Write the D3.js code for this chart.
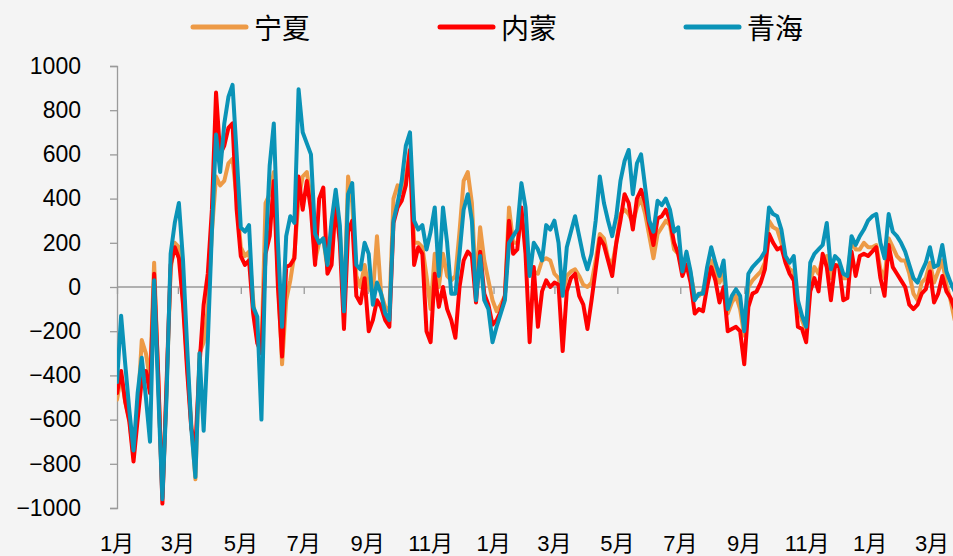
<!DOCTYPE html>
<html>
<head>
<meta charset="utf-8">
<script src="https://cdn.jsdelivr.net/npm/d3@7"></script>
<style>
  html, body { margin: 0; padding: 0; background: #f4f4f4; }
  svg { display: block; }
</style>
</head>
<body>
<svg id="chart" width="953" height="556"></svg>
<script>
// Series names and colours, in legend order
const seriesNames = ["宁夏", "内蒙", "青海"];
const seriesColors = ["#ED9A46", "#FF0000", "#0A93B7"];

// Sampling: one observation every 4 days from the start date
const startDate = "2022-01-01";
const stepDays = 4;

// Axis ticks
const yTickValues = [-1000, -800, -600, -400, -200, 0, 200, 400, 600, 800, 1000];
const xTickStart = "2022-01-01";
const xTickEnd = "2024-03-01";

// 宁夏
const ningxia = [
  -510,-400,-520,-600,-770,-560,-240,-300,-420,110,
  -420,-950,-470,80,200,180,-50,-350,-620,-870,
  -300,-250,-100,250,500,460,480,560,580,400,
  180,140,160,-60,-240,-300,380,420,520,50,
  -350,-60,30,150,400,500,520,400,120,200,
  220,80,150,420,250,-100,500,380,50,0,
  100,0,-30,230,-30,-90,-110,400,460,430,
  500,620,200,200,180,50,-100,150,0,150,
  50,30,50,250,480,520,380,0,270,120,
  30,-60,-110,-80,-40,360,200,200,300,240,
  100,70,60,120,130,120,60,40,-30,50,
  70,80,50,10,0,20,120,240,220,130,
  100,200,330,350,330,290,360,400,330,230,
  130,240,270,300,280,170,150,80,140,60,
  -40,-40,-20,40,120,70,20,60,-120,-70,
  -40,-100,-220,0,30,50,70,110,300,270,
  260,200,120,80,70,-80,-150,-200,30,90,
  60,130,140,40,100,100,40,40,210,170,
  170,200,180,180,190,80,40,220,180,140,
  120,120,60,-30,-60,20,40,110,20,70,
  120,10,-60,-150,-180
];

// 内蒙
const neimeng = [
  -480,-380,-520,-610,-790,-600,-420,-380,-480,60,
  -400,-980,-440,100,180,130,-80,-380,-640,-720,
  -350,-80,60,350,880,600,640,720,740,350,
  140,100,120,-120,-255,-300,150,230,480,0,
  -315,90,100,130,500,350,480,350,100,400,
  450,60,100,380,200,-190,250,300,-40,-74,
  40,-200,-150,-60,-90,-150,-180,290,360,390,
  460,620,100,180,150,-200,-250,60,-90,0,
  -100,-150,-230,0,120,160,140,-70,160,-30,
  -80,-170,-150,-110,-40,300,150,170,360,150,
  -250,90,-180,-20,30,0,20,10,-290,-20,
  40,60,-40,-80,-190,-60,80,220,190,120,
  50,200,300,420,380,260,400,440,380,280,
  190,310,320,350,300,200,150,50,100,20,
  -120,-100,-110,0,90,30,-70,0,-200,-190,
  -180,-200,-350,-90,-30,-20,20,80,240,200,
  170,180,110,60,30,-180,-190,-250,-20,40,
  -20,150,90,-60,100,90,-60,-50,160,50,
  140,150,140,160,180,40,-40,190,90,60,
  30,0,-80,-100,-80,-30,-10,70,-70,-30,
  50,-20,-50,-100,-130
];

// 青海
const qinghai = [
  -430,-130,-350,-560,-740,-480,-320,-500,-700,30,
  -480,-960,-500,150,290,380,120,-270,-640,-860,
  -300,-650,-250,250,690,520,740,860,915,600,
  270,250,280,-90,-135,-600,150,550,740,200,
  -180,230,320,290,895,700,650,600,240,200,
  220,100,300,440,280,-110,420,470,100,80,
  200,150,-80,20,-30,-120,-150,300,380,480,
  640,700,300,260,280,170,250,360,50,360,
  200,-30,-30,150,350,420,300,-60,140,-60,
  -100,-250,-180,-120,-60,200,230,260,470,360,
  50,200,170,120,280,260,300,200,-40,180,
  250,320,230,140,80,150,300,500,380,300,
  230,320,480,570,620,420,560,600,450,300,
  250,390,370,400,350,250,270,70,160,70,
  -60,-30,-30,90,180,110,50,120,-100,-40,
  -10,-40,-200,60,90,110,130,160,360,330,
  320,260,140,110,140,-60,-130,-180,110,150,
  170,190,290,80,140,120,60,50,230,190,
  230,260,300,320,330,200,130,330,250,230,
  200,160,100,40,20,70,110,180,90,100,
  190,70,20,-20,-50
];

const seriesValues = [ningxia, neimeng, qinghai];

const W = 953, H = 556;
const plot = { left: 117, right: 953, top: 66, bottom: 508 };

const parse = d3.utcParse("%Y-%m-%d");
const t0 = parse(startDate);
const dates = ningxia.map((_, i) => d3.utcDay.offset(t0, i * stepDays));

const x = d3.scaleUtc()
  .domain([parse(xTickStart), parse(xTickEnd)])
  .range([117, 932]);

const y = d3.scaleLinear()
  .domain([-1000, 1000])
  .range([plot.bottom, plot.top]);

const svg = d3.select("#chart");

svg.append("rect").attr("width", W).attr("height", H).attr("fill", "#f4f4f4");

svg.append("defs").append("clipPath").attr("id", "plotClip")
  .append("rect")
  .attr("x", plot.left).attr("y", 0)
  .attr("width", plot.right - plot.left).attr("height", H);

const axisColor = "#9a9a9a";
const numFont = "'Liberation Sans', Arial, 'Noto Sans CJK SC', sans-serif";

// Y axis
const yAxis = svg.append("g")
  .attr("transform", `translate(${plot.left},0)`)
  .call(d3.axisLeft(y).tickValues(yTickValues).tickSize(7).tickPadding(29)
    .tickFormat(d3.format("d")));
yAxis.select(".domain").attr("stroke", axisColor).attr("stroke-width", 1.3);
yAxis.selectAll(".tick line").attr("stroke", axisColor).attr("stroke-width", 1.3);
yAxis.selectAll(".tick text")
  .attr("fill", "#000")
  .style("font-family", numFont)
  .style("font-size", "23px");

// X axis along zero, with labels at the bottom
const xTicks = d3.utcMonth.every(2).range(parse(xTickStart), d3.utcDay.offset(parse(xTickEnd), 1));
const xAxis = svg.append("g")
  .attr("transform", `translate(0,${y(0)})`)
  .call(d3.axisBottom(x).tickValues(xTicks).tickSize(7).tickFormat(""));
xAxis.select(".domain")
  .attr("d", `M${plot.left},0H${plot.right}`)
  .attr("stroke", axisColor).attr("stroke-width", 1.3);
xAxis.selectAll(".tick line").attr("stroke", axisColor).attr("stroke-width", 1.3);

svg.append("g")
  .selectAll("text")
  .data(xTicks)
  .join("text")
  .attr("x", d => x(d))
  .attr("y", 551)
  .attr("text-anchor", "middle")
  .style("font-family", numFont)
  .style("font-size", "22px")
  .attr("fill", "#000")
  .text(d => `${d.getUTCMonth() + 1}月`);

// Lines
const line = d3.line()
  .x((d, i) => x(dates[i]))
  .y(d => y(d));

const lines = svg.append("g").attr("clip-path", "url(#plotClip)");
seriesValues.forEach((vals, k) => {
  lines.append("path")
    .datum(vals)
    .attr("fill", "none")
    .attr("stroke", seriesColors[k])
    .attr("stroke-width", 4)
    .attr("stroke-linejoin", "round")
    .attr("stroke-linecap", "round")
    .attr("d", line);
});

// Legend
const legendX = [193, 440, 686];
const legend = svg.append("g");
seriesNames.forEach((name, k) => {
  const g = legend.append("g").attr("transform", `translate(${legendX[k]},27)`);
  g.append("line")
    .attr("x1", 0).attr("x2", 53).attr("y1", 0).attr("y2", 0)
    .attr("stroke", seriesColors[k]).attr("stroke-width", 5)
    .attr("stroke-linecap", "round");
  g.append("text")
    .attr("x", 61).attr("y", 0)
    .attr("dominant-baseline", "central")
    .style("font-family", "'Noto Sans CJK SC', sans-serif")
    .style("font-size", "28px")
    .attr("fill", "#000")
    .text(name);
});
</script>
</body>
</html>
